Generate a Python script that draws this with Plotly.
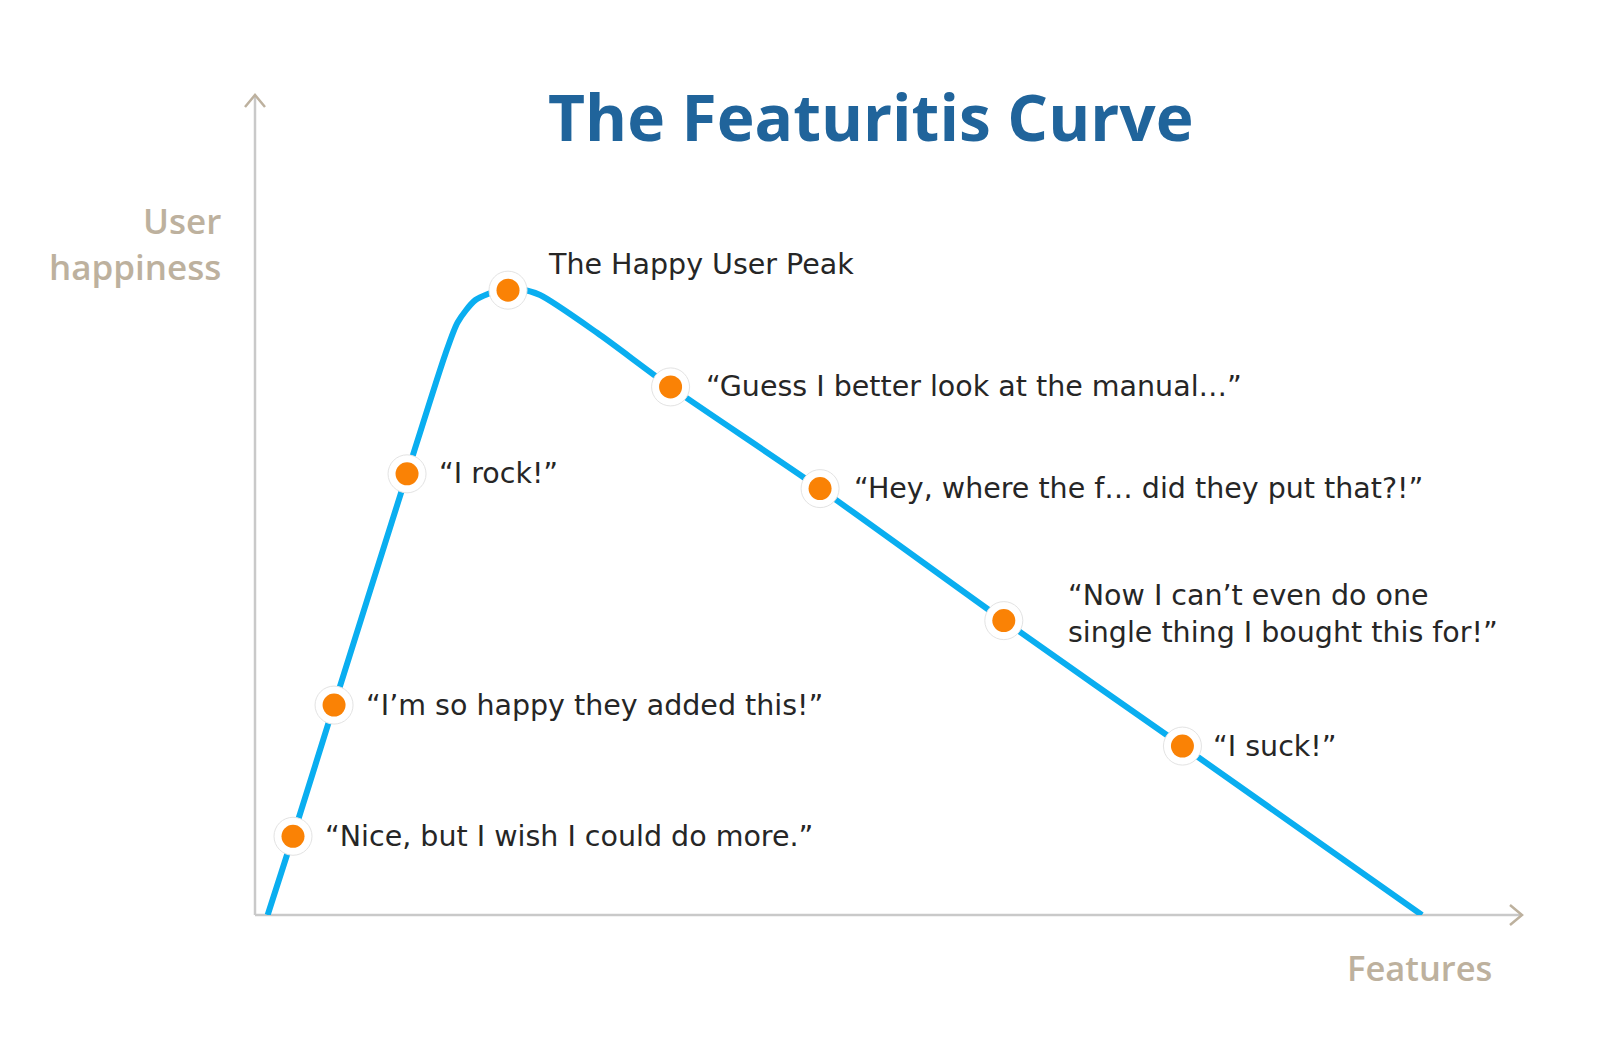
import plotly.graph_objects as go

# ---- data (Features 0-100, User happiness 0-100) ----
curve_x = [1.0, 3.0, 6.24, 12.0, 15.0, 16.0, 17.4, 19.3, 20.9, 22.5, 27.0, 32.8, 44.6, 59.1, 73.2, 92.1]
curve_y = [0.0, 9.6, 25.6, 53.8, 68.3, 72.3, 75.0, 76.2, 76.3, 75.6, 71.0, 64.4, 52.0, 35.9, 20.6, 0.0]

point_x = [3.0, 6.24, 12.0, 19.97, 32.8, 44.6, 59.1, 73.2]
point_y = [9.6, 25.6, 53.8, 76.2, 64.4, 52.0, 35.9, 20.6]
point_labels = [
    "“Nice, but I wish I could do more.”",
    "“I’m so happy they added this!”",
    "“I rock!”",
    "The Happy User Peak",
    "“Guess I better look at the manual…”",
    "“Hey, where the f… did they put that?!”",
    "“Now I can’t even do one<br>single thing I bought this for!”",
    "“I suck!”",
]
label_shift_x = [30, 30, 30, 38, 33, 32, 62, 29]
label_shift_y = [0, 0, 0, 26, 0, 0, 7, 0]

title_text = "The Featuritis Curve"
y_label = "User<br>happiness"
x_label = "Features"

# ---- layout constants ----
OFF = 8                     # page body margin
W, H = 1600 - 2 * OFF, 1047 - 2 * OFF
X0, Y0 = 255, 915           # axis origin in page pixels
X1, Y1 = 1522, 95           # axis ends in page pixels
PW, PH = X1 - X0, Y0 - Y1
L, T = X0 - OFF, Y1 - OFF
R, B = W - L - PW, H - T - PH
AX_COL = "#C9C9C9"
TAN = "#BDB19E"
BODY_FONT = "DejaVu Sans"

def px2paper(px, py):
    return (px - X0) / PW, (Y0 - py) / PH

fig = go.Figure()

fig.add_trace(go.Scatter(
    x=curve_x, y=curve_y, mode="lines",
    line=dict(color="#0AAEF0", width=6, shape="spline", smoothing=0.7),
    hoverinfo="skip", showlegend=False,
))
fig.add_trace(go.Scatter(
    x=point_x, y=point_y, mode="markers",
    marker=dict(size=38, color="white", line=dict(color="#E3E3E3", width=1)),
    hoverinfo="skip", showlegend=False,
))
fig.add_trace(go.Scatter(
    x=point_x, y=point_y, mode="markers",
    marker=dict(size=23, color="#FA8205", line=dict(width=0)),
    showlegend=False,
))

annotations = []
for x, y, t, dx, dy in zip(point_x, point_y, point_labels, label_shift_x, label_shift_y):
    annotations.append(dict(
        x=x, y=y, xref="x", yref="y", text=t, showarrow=False,
        xanchor="left", yanchor="middle", align="left",
        xshift=dx, yshift=dy,
        font=dict(family=BODY_FONT, size=28.5, color="#262626"),
    ))

tx, ty = px2paper(870, 116)
annotations.append(dict(
    x=tx, y=ty, xref="paper", yref="paper", text=f"<b>{title_text}</b>",
    showarrow=False, xanchor="center", yanchor="middle",
    font=dict(family="Open Sans", size=64, color="#20649B"),
))
lx, ly = px2paper(223, 243)
annotations.append(dict(
    x=lx, y=ly, xref="paper", yref="paper", text=y_label, showarrow=False,
    xanchor="right", yanchor="middle", align="right",
    font=dict(family="Open Sans", size=35, color=TAN, weight=600),
))
fx, fy = px2paper(1494, 967)
annotations.append(dict(
    x=fx, y=fy, xref="paper", yref="paper", text=x_label, showarrow=False,
    xanchor="right", yanchor="middle",
    font=dict(family="Open Sans", size=34.5, color=TAN, weight=600),
))

shapes = [
    dict(type="line", xref="paper", yref="paper", x0=0, y0=0, x1=0, y1=1,
         line=dict(color=AX_COL, width=2.5), layer="below"),
    dict(type="line", xref="paper", yref="paper", x0=0, y0=0, x1=1, y1=0,
         line=dict(color=AX_COL, width=2.5), layer="below"),
]
# arrow heads (chevrons)
a1 = px2paper(245, 107); a2 = px2paper(255, 95); a3 = px2paper(265, 107)
shapes.append(dict(type="path", xref="paper", yref="paper",
                   path=f"M {a1[0]} {a1[1]} L {a2[0]} {a2[1]} L {a3[0]} {a3[1]}",
                   line=dict(color=TAN, width=2.5)))
b1 = px2paper(1510, 905); b2 = px2paper(1522, 915); b3 = px2paper(1510, 925)
shapes.append(dict(type="path", xref="paper", yref="paper",
                   path=f"M {b1[0]} {b1[1]} L {b2[0]} {b2[1]} L {b3[0]} {b3[1]}",
                   line=dict(color=TAN, width=2.5)))

fig.update_layout(
    width=W, height=H,
    margin=dict(l=L, r=R, t=T, b=B),
    paper_bgcolor="white", plot_bgcolor="white",
    xaxis=dict(range=[0, 100], visible=False, fixedrange=True),
    yaxis=dict(range=[0, 100], visible=False, fixedrange=True),
    annotations=annotations, shapes=shapes,
    showlegend=False,
)

fig.write_html("out.html")
